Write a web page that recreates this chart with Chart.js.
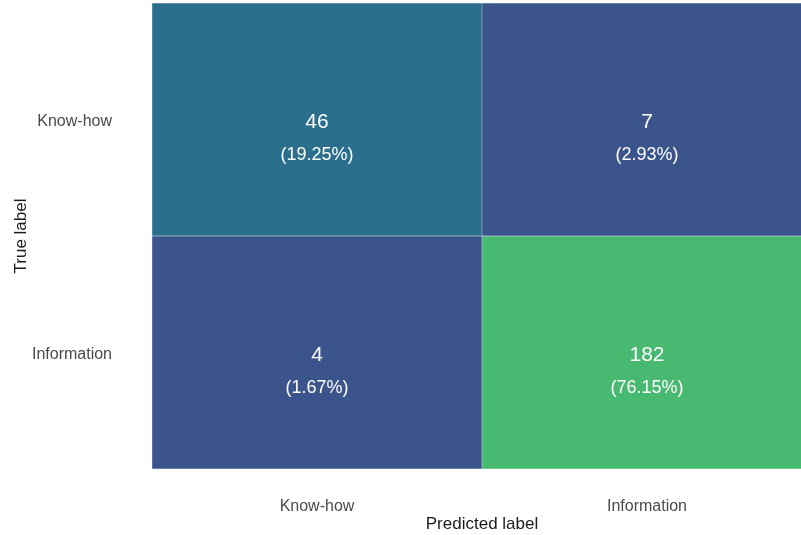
<!DOCTYPE html>
<html>
<head>
<meta charset="utf-8">
<script src="https://cdn.jsdelivr.net/npm/chart.js@4"></script>
<style>
html,body{margin:0;padding:0;background:#fff;}
#wrap{width:801px;height:535px;}
</style>
</head>
<body>
<div id="wrap"><canvas id="c" width="801" height="535"></canvas></div>
<script>
const predictedLabels = ["Know-how", "Information"];
const trueLabels = ["Know-how", "Information"];
const countsKnowHowRow = [46, 7];
const countsInformationRow = [4, 182];
const percentKnowHowRow = ["19.25%", "2.93%"];
const percentInformationRow = ["1.67%", "76.15%"];
const colorsKnowHowRow = ["#2a6f8c", "#3b548b"];
const colorsInformationRow = ["#3b548b", "#47b971"];

const rowsCounts = [countsKnowHowRow, countsInformationRow];
const rowsPercent = [percentKnowHowRow, percentInformationRow];
const rowsColors = [colorsKnowHowRow, colorsInformationRow];

const FONT = "'Liberation Sans', Arial, sans-serif";
const RIGHT_OVERFLOW = 11; // the figure is cropped on its right edge

const datasets = trueLabels.map((t, r) => ({
  label: t,
  data: predictedLabels.map(() => [r, r + 1]),
  backgroundColor: rowsColors[r],
  borderColor: "rgba(255,255,255,0.12)",
  borderWidth: 0.5,
  borderSkipped: false,
  barPercentage: 1,
  categoryPercentage: 1,
  counts: rowsCounts[r],
  pcts: rowsPercent[r]
}));

const extendRight = {
  id: "extendRight",
  afterLayout(chart) {
    const x = chart.scales.x;
    x.right += RIGHT_OVERFLOW;
    x.width += RIGHT_OVERFLOW;
    x.configure();
    chart.chartArea.right += RIGHT_OVERFLOW;
    chart.chartArea.width += RIGHT_OVERFLOW;
  }
};

const cellText = {
  id: "cellText",
  afterDatasetsDraw(chart) {
    const ctx = chart.ctx;
    ctx.save();
    ctx.fillStyle = "#ffffff";
    ctx.textAlign = "center";
    ctx.textBaseline = "middle";
    chart.data.datasets.forEach((ds, di) => {
      const meta = chart.getDatasetMeta(di);
      meta.data.forEach((bar, i) => {
        const cx = bar.x;
        const cy = (bar.y + bar.base) / 2;
        ctx.font = "21px " + FONT;
        ctx.fillText(String(ds.counts[i]), cx, cy + 2.5);
        ctx.font = "18px " + FONT;
        ctx.fillText("(" + ds.pcts[i] + ")", cx, cy + 35.5);
      });
    });
    ctx.restore();
  }
};

new Chart(document.getElementById("c"), {
  type: "bar",
  data: { labels: predictedLabels, datasets },
  options: {
    responsive: false,
    animation: false,
    layout: { padding: { top: 3, right: 0, left: 11, bottom: 0 } },
    plugins: { legend: { display: false }, tooltip: { enabled: false } },
    scales: {
      x: {
        stacked: true,
        grid: { display: false, drawTicks: false },
        border: { display: false },
        afterFit(axis) { axis.paddingLeft = 0; axis.paddingRight = 0; axis.height = 66; },
        ticks: { color: "#4a4a4a", font: { family: FONT, size: 16 }, padding: 28, maxRotation: 0 },
        title: { display: true, text: "Predicted label", color: "#1a1a1a", font: { family: FONT, size: 17 }, padding: { top: 0, bottom: 0 } }
      },
      y: {
        stacked: false,
        reverse: true,
        min: 0,
        max: 2,
        grid: { display: false, drawTicks: false },
        border: { display: false },
        afterBuildTicks(axis) { axis.ticks = trueLabels.map((_, i) => ({ value: i + 0.5 })); },
        afterFit(axis) { axis.paddingTop = 0; axis.paddingBottom = 0; axis.width = 141; },
        ticks: {
          color: "#4a4a4a",
          font: { family: FONT, size: 16 },
          padding: 40,
          labelOffset: 2,
          callback: (v) => trueLabels[Math.floor(v)]
        },
        title: { display: true, text: "True label", color: "#1a1a1a", font: { family: FONT, size: 17 }, padding: { top: 0, bottom: 0 } }
      }
    }
  },
  plugins: [extendRight, cellText]
});
</script>
</body>
</html>
